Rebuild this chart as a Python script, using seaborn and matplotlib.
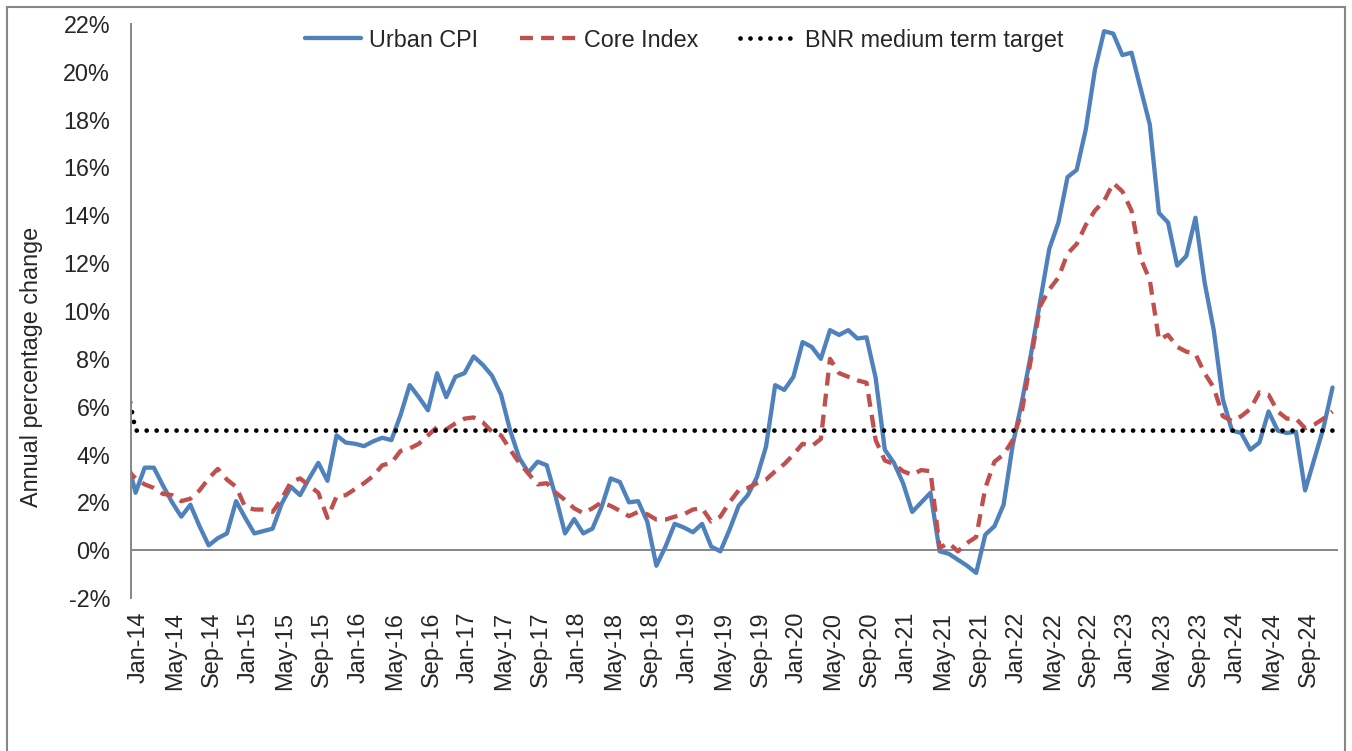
import numpy as np
import pandas as pd
import matplotlib
matplotlib.use("Agg")
import matplotlib.pyplot as plt
import matplotlib.transforms as mtransforms
import seaborn as sns
from matplotlib.patches import Rectangle

# Monthly observations Dec-13 .. Dec-24 (Dec-13 only shows as the clipped start)
months = pd.date_range("2013-12-01", "2024-12-01", freq="MS")

urban_cpi = [
    3.9,
    2.4, 3.45, 3.45, 2.7, 2.0, 1.4, 1.9, 1.0, 0.2, 0.5, 0.7, 2.05,
    1.35, 0.7, 0.8, 0.9, 1.95, 2.65, 2.3, 3.0, 3.65, 2.9, 4.8, 4.5,
    4.45, 4.35, 4.55, 4.7, 4.6, 5.65, 6.9, 6.4, 5.85, 7.4, 6.4, 7.25,
    7.4, 8.1, 7.75, 7.3, 6.5, 5.0, 3.85, 3.25, 3.7, 3.55, 2.2, 0.7,
    1.3, 0.7, 0.9, 1.8, 3.0, 2.85, 2.0, 2.05, 1.2, -0.65, 0.15, 1.1,
    0.95, 0.75, 1.1, 0.15, -0.05, 0.85, 1.85, 2.3, 3.05, 4.33, 6.9, 6.7,
    7.25, 8.7, 8.5, 8.0, 9.2, 9.0, 9.2, 8.85, 8.9, 7.2, 4.2, 3.65,
    2.8, 1.6, 2.0, 2.4, -0.05, -0.15, -0.4, -0.65, -0.95, 0.65, 1.0, 1.9,
    4.4, 6.2, 8.2, 10.4, 12.6, 13.7, 15.6, 15.9, 17.6, 20.1, 21.7, 21.6,
    20.7, 20.8, 19.3, 17.8, 14.1, 13.7, 11.9, 12.3, 13.9, 11.2, 9.2, 6.3,
    5.0, 4.9, 4.2, 4.5, 5.8, 5.0, 4.9, 4.95, 2.5, 3.8, 5.1, 6.8,
]

core_index = [
    3.4,
    3.0, 2.75, 2.6, 2.35, 2.3, 2.05, 2.15, 2.5, 3.0, 3.4, 2.95, 2.65,
    1.8, 1.7, 1.7, 1.6, 2.15, 2.85, 3.0, 2.7, 2.4, 1.35, 2.25, 2.3,
    2.55, 2.8, 3.1, 3.55, 3.65, 4.15, 4.25, 4.45, 4.8, 5.15, 5.05, 5.3,
    5.5, 5.55, 5.35, 4.95, 4.8, 4.2, 3.65, 3.2, 2.75, 2.8, 2.4, 2.1,
    1.75, 1.55, 1.75, 2.0, 1.85, 1.65, 1.42, 1.6, 1.5, 1.28, 1.28, 1.4,
    1.5, 1.7, 1.75, 1.2, 1.4, 2.0, 2.5, 2.6, 2.8, 2.95, 3.3, 3.6,
    4.0, 4.45, 4.35, 4.65, 8.0, 7.4, 7.25, 7.1, 7.0, 4.6, 3.75, 3.6,
    3.3, 3.15, 3.35, 3.3, 0.1, 0.3, -0.05, 0.3, 0.55, 2.6, 3.7, 4.0,
    4.6, 5.8, 8.0, 10.2, 10.9, 11.4, 12.4, 12.8, 13.6, 14.2, 14.6, 15.35,
    15.0, 14.2, 12.2, 11.3, 8.8, 9.0, 8.5, 8.3, 8.2, 7.4, 6.8, 5.6,
    5.4, 5.6, 5.9, 6.6, 6.5, 5.8, 5.5, 5.5, 5.1, 5.25, 5.5, 5.8,
]

bnr_target = [
    7.0,
    5, 5, 5, 5, 5, 5, 5, 5, 5, 5, 5, 5,
    5, 5, 5, 5, 5, 5, 5, 5, 5, 5, 5, 5,
    5, 5, 5, 5, 5, 5, 5, 5, 5, 5, 5, 5,
    5, 5, 5, 5, 5, 5, 5, 5, 5, 5, 5, 5,
    5, 5, 5, 5, 5, 5, 5, 5, 5, 5, 5, 5,
    5, 5, 5, 5, 5, 5, 5, 5, 5, 5, 5, 5,
    5, 5, 5, 5, 5, 5, 5, 5, 5, 5, 5, 5,
    5, 5, 5, 5, 5, 5, 5, 5, 5, 5, 5, 5,
    5, 5, 5, 5, 5, 5, 5, 5, 5, 5, 5, 5,
    5, 5, 5, 5, 5, 5, 5, 5, 5, 5, 5, 5,
    5, 5, 5, 5, 5, 5, 5, 5, 5, 5, 5, 5,
]

# month position, Jan-14 = 0
pos = np.arange(len(months)) - 1
df = pd.DataFrame({"pos": pos, "urban": urban_cpi, "core": core_index, "target": bnr_target})

sns.set_style("white")
plt.rcParams["font.family"] = ["Liberation Sans", "DejaVu Sans"]
fs = 16.8

fig = plt.figure(figsize=(13.52, 7.51), dpi=100)
ax = fig.add_axes([131 / 1352, 1 - 598 / 751, (1338 - 131) / 1352, (598 - 24) / 751])

sns.lineplot(data=df, x="pos", y="urban", ax=ax, color="#4F81BD", lw=3.1,
             label="Urban CPI")
sns.lineplot(data=df, x="pos", y="core", ax=ax, color="#C0504D", lw=3.1,
             linestyle=(0, (3.0, 1.9)), label="Core Index")
sns.lineplot(data=df, x="pos", y="target", ax=ax, color="black", lw=3.4,
             linestyle=(0, (0.01, 2.1)), dash_capstyle="round",
             label="BNR medium term target")

ax.axhline(0, color="#868686", lw=1.4, zorder=1)

ax.set_xlim(-0.5, 131.6)
ax.set_ylim(-2, 22)
ax.set_yticks(np.arange(-2, 23, 2))
ax.set_yticklabels([f"{v:.0f}%" for v in np.arange(-2, 23, 2)], fontsize=fs)

tick_pos = pos[1::4]
tick_labels = months[1::4].strftime("%b-%y")
ax.set_xticks(tick_pos)
ax.set_xticklabels(tick_labels, rotation=90, fontsize=fs)
ax.tick_params(axis="y", length=0, pad=15)
ax.tick_params(axis="x", length=0, pad=10)
shift = mtransforms.ScaledTranslation(3 / 100, 0, fig.dpi_scale_trans)
for lbl in ax.get_xticklabels():
    lbl.set_transform(lbl.get_transform() + shift)
ax.set_xlabel("")
ax.set_ylabel("")

for s in ["top", "right", "bottom"]:
    ax.spines[s].set_visible(False)
ax.spines["left"].set_color("#868686")
ax.spines["left"].set_linewidth(1.4)

handles, labels = ax.get_legend_handles_labels()
ax.legend(handles, labels, loc="center", bbox_to_anchor=(0.458, 0.972), ncol=3,
          frameon=False, fontsize=fs, handlelength=2.4, handletextpad=0.35,
          columnspacing=1.8)

fig.text(32 / 1352, 1 - 367 / 751, "Annual percentage change", rotation=90,
         ha="center", va="center", fontsize=fs)

# outer chart frame
fig.patches.append(Rectangle((7 / 1352, -0.01), (1345 - 7) / 1352, 1 - 7 / 751 + 0.01,
                             transform=fig.transFigure, fill=False,
                             edgecolor="#868686", lw=1.5))

fig.savefig("out.png", dpi=100)
